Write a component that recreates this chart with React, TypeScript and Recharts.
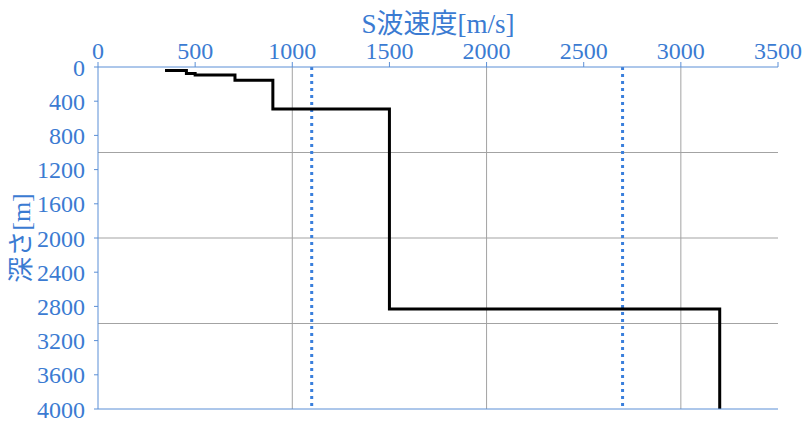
import React from 'react';
import { LineChart, Line, XAxis, YAxis, ReferenceLine } from 'recharts';

const velocity = [345, 455, 455, 500, 500, 705, 705, 900, 900, 1500, 1500, 3200, 3200];
const depth = [40, 40, 75, 75, 95, 95, 155, 155, 490, 490, 2830, 2830, 4000];
const refVelocities = [1100, 2700];
const refDepths = [0, 4000];
const xTicks = [0, 500, 1000, 1500, 2000, 2500, 3000, 3500];
const yTicks = [0, 400, 800, 1200, 1600, 2000, 2400, 2800, 3200, 3600, 4000];
const gridValues = [1000, 2000, 3000];
const xTitle = 'S波速度[m/s]';
const yTitle = '深さ[m]';

const profile = velocity.map((v, i) => ({ v, d: depth[i] }));
const refLines = refVelocities.map((rv) => refDepths.map((d) => ({ v: rv, d })));

const TEXT = '#3b7bd2';
const AXIS = '#5b8fd6';
const GRID = '#a3a3a3';
const FONT = "'Liberation Serif', 'Noto Sans CJK JP', serif";

export default function App() {
  return (
    <div style={{ position: 'absolute', left: 0, top: 0, background: '#fff' }}>
      <LineChart
        width={810}
        height={426}
        margin={{ top: 0, right: 32, bottom: 0, left: 0 }}
      >
        <XAxis
          xAxisId="top"
          orientation="top"
          type="number"
          dataKey="v"
          domain={[0, 3500]}
          ticks={xTicks}
          interval={0}
          height={67}
          stroke={AXIS}
          tickSize={5}
          tickMargin={3}
          tick={{ fill: TEXT, fontSize: 24, fontFamily: FONT }}
          label={{
            value: xTitle,
            position: 'insideTop',
            offset: 14,
            fill: TEXT,
            fontSize: 27,
            fontFamily: FONT,
          }}
        />
        <XAxis
          xAxisId="bottom"
          orientation="bottom"
          type="number"
          dataKey="v"
          domain={[0, 3500]}
          ticks={xTicks}
          interval={0}
          height={17}
          stroke={AXIS}
          tickSize={5}
          tick={false}
        />
        <YAxis
          type="number"
          dataKey="d"
          reversed
          domain={[0, 4000]}
          ticks={yTicks}
          interval={0}
          width={98}
          stroke={AXIS}
          tickSize={4}
          tickMargin={9}
          tick={{ fill: TEXT, fontSize: 24, fontFamily: FONT }}
          label={{
            value: yTitle,
            angle: -90,
            position: 'insideLeft',
            offset: 21,
            fill: TEXT,
            fontSize: 26,
            fontFamily: FONT,
            style: { textAnchor: 'middle' },
          }}
        />
        {gridValues.map((g) => (
          <ReferenceLine key={'h' + g} y={g} xAxisId="top" stroke={GRID} strokeWidth={1} />
        ))}
        {gridValues.map((g) => (
          <ReferenceLine key={'v' + g} x={g} xAxisId="top" stroke={GRID} strokeWidth={1} />
        ))}
        {refLines.map((data, i) => (
          <Line
            key={'ref' + i}
            xAxisId="top"
            data={data}
            dataKey="d"
            type="linear"
            stroke="#3a7fdc"
            strokeWidth={3}
            strokeDasharray="3 4"
            dot={false}
            activeDot={false}
            isAnimationActive={false}
          />
        ))}
        <Line
          xAxisId="top"
          data={profile}
          dataKey="d"
          type="linear"
          stroke="#000"
          strokeWidth={3}
          strokeLinejoin="miter"
          dot={false}
          activeDot={false}
          isAnimationActive={false}
        />
      </LineChart>
    </div>
  );
}
